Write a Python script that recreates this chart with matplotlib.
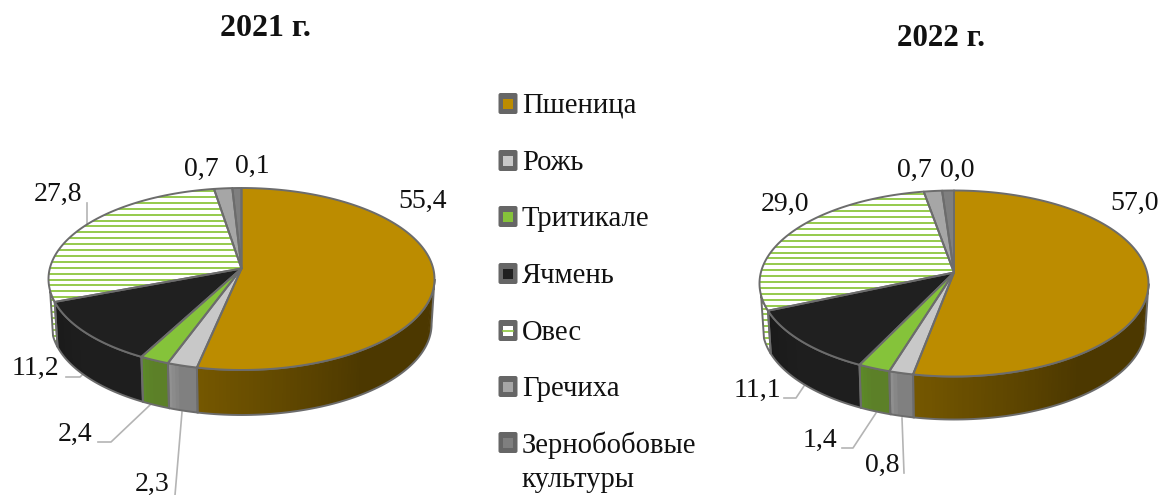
import numpy as np
import matplotlib
matplotlib.use("Agg")
import matplotlib.pyplot as plt
from matplotlib.colors import to_rgb
from matplotlib.patches import FancyBboxPatch, Polygon, Rectangle

plt.rcParams['font.family'] = ['Liberation Serif', 'DejaVu Serif']

categories = ["Пшеница", "Рожь", "Тритикале", "Ячмень", "Овес", "Гречиха",
              "Зернобобовые\nкультуры"]
# printed data labels
labels_2021 = ["55,4", "2,3", "2,4", "11,2", "27,8", "0,7", "0,1"]
labels_2022 = ["57,0", "0,8", "1,4", "11,1", "29,0", "0,7", "0,0"]
# slice sizes as drawn in the picture (they differ a bit from the labels)
shares_2021 = [53.2, 2.25, 2.2, 11.4, 28.2, 1.7, 0.85]
shares_2022 = [53.0, 1.8, 2.4, 11.3, 28.7, 1.7, 1.1]

face_colors = ["#BC8C00", "#C8C8C8", "#85C33A", "#202020", "#FFFFFF", "#A6A6A6", "#7F7F7F"]
wall_left = ["#765800", "#969696", "#5C8C28", "#1A1A1A", "#FFFFFF", "#808080", "#606060"]
wall_right = ["#4C3800", "#808080", "#5C8028", "#1E1E1E", "#FFFFFF", "#808080", "#606060"]
STRIPE = "#8CC63E"
EDGE = "#6C6C6C"
LEADER = "#B4B4B4"
TEXT = "#111111"

fig = plt.figure(figsize=(11.6, 4.95), dpi=100)
ax = fig.add_axes([0, 0, 1, 1])
ax.set_xlim(0, 1160)
ax.set_ylim(495, 0)
ax.axis('off')


def stripes(poly, top, bottom, left, right):
    patch = Polygon(poly, closed=True, transform=ax.transData, fc='none', ec='none')
    ax.add_patch(patch)
    ys = np.arange(top, bottom, 5.9)
    lines = ax.hlines(ys, left, right, color=STRIPE, lw=1.3, zorder=patch.get_zorder())
    lines.set_clip_path(patch)
    return lines


def pie3d(shares, cx, cy, rx, up, down, depth):
    k = (down - up) / (down + up)
    b = up * (1 + k)
    a = rx * np.sqrt(1 - k ** 2)

    def pts(theta, dy=0, shrink=1.0):
        u, v = np.sin(theta), np.cos(theta)
        return np.c_[cx + shrink * a * u / (1 + k * v), cy - b * v / (1 + k * v) + dy]

    edges = np.radians(np.r_[0, np.cumsum(shares)] / np.sum(shares) * 360)
    vis_l = np.arccos(-k)
    vis_r = np.radians(256)

    # side walls, only the part facing the viewer
    for i in range(len(shares)):
        t0, t1 = max(edges[i], vis_l), min(edges[i + 1], vis_r)
        if t1 <= t0:
            continue
        n = max(2, int(np.degrees(t1 - t0)))
        th = np.linspace(t0, t1, n + 1)
        c_l, c_r = np.array(to_rgb(wall_left[i])), np.array(to_rgb(wall_right[i]))
        # strips run from the dark end, each overlapping the next to hide seams
        for j in range(n):
            seg = np.linspace(th[j], min(th[j] + 2 * (th[1] - th[0]), t1), 5)
            poly = np.r_[pts(seg), pts(seg[::-1], depth, 0.985)]
            f = min(1.0, (t1 - th[j]) / (t1 - t0) * 2.0)
            col = c_l + (c_r - c_l) * f
            ax.fill(poly[:, 0], poly[:, 1], color=col, lw=0, zorder=2)
        seg = np.linspace(t0, t1, 80)
        poly = np.r_[pts(seg), pts(seg[::-1], depth, 0.985)]
        if categories[i] == "Овес":
            stripes(poly, cy - up, cy + down + depth, cx - rx, cx + rx).set_zorder(2.1)
        ax.fill(poly[:, 0], poly[:, 1], fc='none', ec=EDGE, lw=1.4, zorder=2.2)

    # top faces
    for i in range(len(shares)):
        th = np.linspace(edges[i], edges[i + 1], 120)
        poly = np.r_[[[cx, cy]], pts(th)]
        ax.fill(poly[:, 0], poly[:, 1], fc=face_colors[i], ec='none', zorder=3)
        if categories[i] == "Овес":
            stripes(poly, cy - up + 3, cy + down, cx - rx, cx + rx).set_zorder(3.1)
        ax.fill(poly[:, 0], poly[:, 1], fc='none', ec=EDGE, lw=1.4, zorder=3.2, joinstyle='round')


pie3d(shares_2021, 241.5, 268.5, 193, 80.5, 101.5, 45)
pie3d(shares_2022, 954, 272.5, 194.5, 82, 104, 43)

ax.text(265, 29, "2021 г.", fontsize=23, fontweight='bold', color=TEXT, ha='center', va='center')
ax.text(941, 38, "2022 г.", fontsize=22.3, fontweight='bold', color=TEXT, ha='center', va='center')

pos_2021 = [(423, 201), (152, 484), (75, 434), (35, 368), (58, 194), (201, 169), (252, 166)]
pos_2022 = [(1135, 203), (882, 465), (820, 440), (757, 390), (785, 204), (914, 170), (957, 170)]
for labels, positions in ((labels_2021, pos_2021), (labels_2022, pos_2022)):
    for lab, (x, y) in zip(labels, positions):
        ax.text(x, y, lab, fontsize=20, color=TEXT, ha='center', va='center')

leaders = [
    [(87, 203), (87, 224)],
    [(66, 377), (80, 377), (85, 372)],
    [(98, 442), (111, 442), (150, 405)],
    [(175, 495), (182, 412)],
    [(784, 398), (796, 398), (804, 386)],
    [(842, 448), (853, 448), (876, 413)],
    [(904, 473), (902, 418)],
]
for line in leaders:
    xs, ys = zip(*line)
    ax.plot(xs, ys, color=LEADER, lw=1.2, zorder=1)

# legend
legend_y = [104, 161, 217, 274, 331, 387, 443]
for name, col, y in zip(categories, face_colors, legend_y):
    ax.add_patch(FancyBboxPatch((500, y - 9.5), 16, 18, boxstyle="round,pad=1.5,rounding_size=2",
                                fc="#666666", ec='none', zorder=3))
    ax.add_patch(Rectangle((503, y - 5.5), 10, 10, fc=col, ec='none', zorder=4))
    if name == "Овес":
        ax.plot([503, 513], [y - 0.5, y - 0.5], color=STRIPE, lw=1.2, zorder=5)
    for n, part in enumerate(name.split("\n")):
        ax.text(522, y + 2 + 35 * n, part, fontsize=20.6, color=TEXT, ha='left', va='center')

plt.savefig("out.png", dpi=100)
